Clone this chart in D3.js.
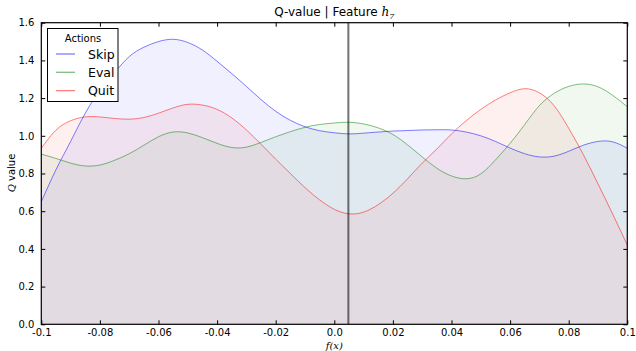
<!DOCTYPE html>
<html><head><meta charset="utf-8">
<script src="https://cdn.jsdelivr.net/npm/d3@7"></script>
<style>body{margin:0;background:#fff}svg{display:block;font-family:"DejaVu Sans",sans-serif}</style>
</head><body><svg id="c" width="636" height="351"></svg>
<script>
const xs = [-0.1,-0.095,-0.09,-0.085,-0.08,-0.075,-0.07,-0.065,-0.06,-0.055,-0.05,-0.045,-0.04,-0.035,-0.03,-0.025,-0.02,-0.015,-0.01,-0.005,
            0.0,0.005,0.01,0.015,0.02,0.025,0.03,0.035,0.04,0.045,0.05,0.055,0.06,0.065,0.07,0.075,0.08,0.085,0.09,0.095,0.1];
const skip = [0.65,0.82,0.97,1.12,1.24,1.335,1.42,1.47,1.50,1.512,1.495,1.455,1.395,1.33,1.262,1.192,1.13,1.082,1.048,1.027,
              1.016,1.01,1.014,1.02,1.025,1.028,1.031,1.032,1.031,1.02,1.0,0.97,0.935,0.905,0.888,0.892,0.918,0.95,0.97,0.968,0.934];
const evalQ = [0.903,0.88,0.855,0.84,0.845,0.87,0.905,0.95,0.995,1.02,1.015,0.99,0.96,0.938,0.94,0.965,0.995,1.022,1.045,1.06,
               1.068,1.072,1.063,1.042,1.007,0.952,0.888,0.828,0.787,0.772,0.798,0.872,0.96,1.06,1.16,1.225,1.262,1.275,1.26,1.215,1.154];
const quit = [0.934,1.03,1.08,1.10,1.10,1.092,1.088,1.097,1.12,1.148,1.167,1.163,1.14,1.095,1.031,0.955,0.876,0.80,0.725,0.66,
              0.61,0.586,0.595,0.635,0.695,0.772,0.855,0.93,1.01,1.08,1.14,1.19,1.228,1.25,1.228,1.16,1.04,0.90,0.745,0.585,0.42];
const seriesNames = ["Skip","Eval","Quit"];
const seriesColors = ["#0000ff","#008000","#ff0000"];
const xTicks = [-0.1,-0.08,-0.06,-0.04,-0.02,0.0,0.02,0.04,0.06,0.08,0.1];
const xTickLabels = ["-0.1","-0.08","-0.06","-0.04","-0.02","0.0","0.02","0.04","0.06","0.08","0.1"];
const yTicks = [0,0.2,0.4,0.6,0.8,1.0,1.2,1.4,1.6];
const yTickLabels = ["0.0","0.2","0.4","0.6","0.8","1.0","1.2","1.4","1.6"];
const featureX = 0.0048;

const svg = d3.select("#c");
const L=41.3,R=627.3,T=22.7,B=324.3;
const x = d3.scaleLinear().domain([-0.1,0.1]).range([L,R]);
const y = d3.scaleLinear().domain([0,1.6]).range([B,T]);
const data = [skip,evalQ,quit];

const curve = d3.curveNatural;
const area = d3.area().x((d,i)=>x(xs[i])).y0(y(0)).y1(d=>y(d)).curve(curve);
const line = d3.line().x((d,i)=>x(xs[i])).y(d=>y(d)).curve(curve);

svg.append("clipPath").attr("id","pc").append("rect").attr("x",L).attr("y",T).attr("width",R-L).attr("height",B-T);
const g = svg.append("g").attr("clip-path","url(#pc)");
data.forEach((s,i)=>{
  g.append("path").attr("d",area(s)).attr("fill",seriesColors[i]).attr("fill-opacity",0.06);
});
data.forEach((s,i)=>{
  g.append("path").attr("d",line(s)).attr("fill","none").attr("stroke",seriesColors[i]).attr("stroke-opacity",0.5).attr("stroke-width",1);
});
g.append("line").attr("x1",x(featureX)).attr("x2",x(featureX)).attr("y1",T).attr("y2",B)
  .attr("stroke","#000").attr("stroke-opacity",0.55).attr("stroke-width",2);

const ax = svg.append("g");
function styleAxis(sel){sel.select(".domain").remove();sel.selectAll("line").attr("stroke","#000");sel.selectAll("text").attr("fill","#000").style("font-size","10px").style("font-family","DejaVu Sans");}
ax.append("g").attr("transform",`translate(0,${B})`).call(d3.axisBottom(x).tickValues(xTicks).tickFormat((d,i)=>xTickLabels[i]).tickSizeInner(-4).tickSizeOuter(0).tickPadding(5)).call(styleAxis);
ax.append("g").attr("transform",`translate(0,${T})`).call(d3.axisTop(x).tickValues(xTicks).tickFormat("").tickSizeInner(-4).tickSizeOuter(0)).call(styleAxis);
ax.append("g").attr("transform",`translate(${L},0)`).call(d3.axisLeft(y).tickValues(yTicks).tickFormat((d,i)=>yTickLabels[i]).tickSizeInner(-4).tickSizeOuter(0).tickPadding(7)).call(styleAxis);
ax.append("g").attr("transform",`translate(${R},0)`).call(d3.axisRight(y).tickValues(yTicks).tickFormat("").tickSizeInner(-4).tickSizeOuter(0)).call(styleAxis);
svg.append("rect").attr("x",L).attr("y",T).attr("width",R-L).attr("height",B-T).attr("fill","none").attr("stroke","#000").attr("stroke-width",1.2);

const t = svg.append("text").attr("x",(L+R)/2).attr("y",16).attr("text-anchor","middle").style("font-size","12px").attr("fill","#000");
t.append("tspan").text("Q-value | Feature ");
t.append("tspan").text("h").style("font-family","DejaVu Serif").style("font-style","italic");
t.append("tspan").text("7").attr("dy",3).style("font-size","8px").style("font-family","DejaVu Serif").style("font-style","italic");

const yl = svg.append("text").attr("transform",`translate(15,173) rotate(-90)`).attr("text-anchor","middle").style("font-size","10px").attr("fill","#000");
yl.append("tspan").text("Q").style("font-family","DejaVu Serif").style("font-style","italic");
yl.append("tspan").text(" value");
svg.append("text").attr("x",(L+R)/2).attr("y",348.5).attr("text-anchor","middle").style("font-size","10px").style("font-family","DejaVu Serif").style("font-style","italic").attr("fill","#000").text("f(x)");

const lg = svg.append("g");
lg.append("rect").attr("x",47.5).attr("y",28.5).attr("width",70.5).attr("height",73).attr("fill","#fff").attr("stroke","#000").attr("stroke-width",1);
lg.append("text").attr("x",83).attr("y",42).attr("text-anchor","middle").style("font-size","10px").attr("fill","#000").text("Actions");
seriesNames.forEach((n,i)=>{
  const yy = 54 + i*18.3;
  lg.append("line").attr("x1",56).attr("x2",75).attr("y1",yy).attr("y2",yy).attr("stroke",seriesColors[i]).attr("stroke-opacity",0.5).attr("stroke-width",1.3);
  lg.append("text").attr("x",88).attr("y",yy+4.5).style("font-size","12.5px").attr("fill","#000").text(n);
});
</script></body></html>
